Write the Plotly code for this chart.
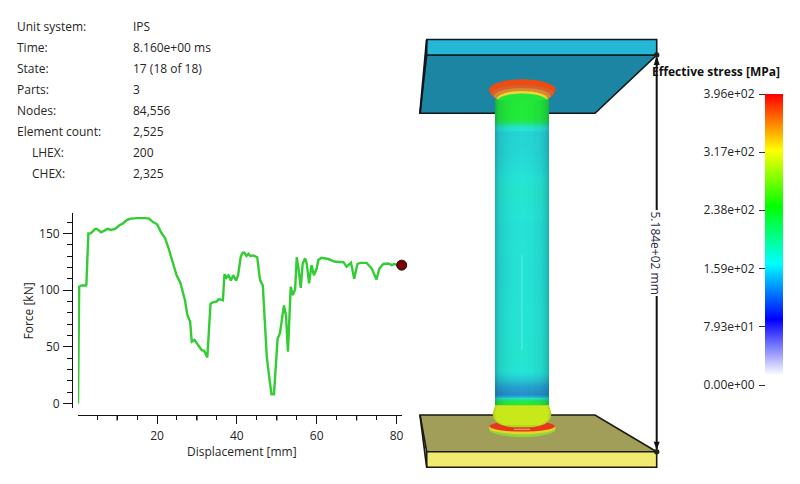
import plotly.graph_objects as go

# --- curve data ---
displacement = [0.2,0.5,1.1,2.2,2.3,2.8,3.4,4.5,4.9,6.0,7.6,8.4,9.5,10.5,11.5,12.5,13.5,15,17,18,19,20,21,22,22.8,23.3,24.9,25.8,27,27.6,28.3,28.7,29.4,31.2,31.8,32.6,33.4,34.1,35,35.5,36.5,36.9,37.4,37.9,38.5,39.1,39.8,40.3,41,41.5,41.9,42.4,42.9,43.4,44.1,45.1,45.8,46.5,47.1,47.5,48.2,48.7,49.3,50.2,50.8,51.2,51.8,52.3,52.8,53.5,54,54.6,55,55.5,56,56.5,57.1,57.5,58.1,58.7,59.3,60,60.4,61.2,62.9,64.6,66.7,67.5,68.4,68.6,69.4,70.2,70.9,72.5,73.8,75,75.7,76.7,77.9,78.8,79.4,80.4,81.3]
force = [0,103,104,104,105,150,150,154,154,151,154,153,154,157,159,162,163,163.5,163.5,163,160,158,151,146,138,132,113,107,91,78,72,54.4,56,47,46.5,40.6,88,89.4,90,92,91,114,111,113,108.5,113,108.5,113,130,133,133,130,132,130,130.6,129,109,104,62,41,20.6,8,8,57,62,70.6,86.5,78,45.6,103,95.6,100.6,129,117.6,102,123.5,128,123.5,106,122,113,119,126.5,128.5,127.4,125,124.7,120.6,124,124,110,123,124,124,119,109.4,119,123,123.5,122,123,122,122]
current_disp = [81.3]
current_force = [122]
x_ticks = [20, 40, 60, 80]
y_ticks = [0, 50, 100, 150]

# --- legend ---
legend_values = [0, 79.3, 158.6, 238, 317, 396]
legend_labels = ["0.00e+00", "7.93e+01", "1.59e+02", "2.38e+02", "3.17e+02", "3.96e+02"]
ramp_levels = [13.6, 90, 166.6, 243, 319.5, 396]
ramp_colors = ["#ffffff", "#0000ff", "#00ffff", "#00ff00", "#ffff00", "#ff0000"]

# --- column stress by image row ---
column_rows = [100,118,122,126,132,150,170,190,210,230,250,270,300,330,360,372,380,388,394,397,400,404,408]
column_stress = [238,236,205,172,158,159,162,167,165,163,164,163,164,165,167,164,152,134,122,150,205,240,262]
column_scale = [[0,"rgb(30,60,190)"],[0.25,"rgb(40,110,195)"],[0.35,"rgb(38,165,208)"],[0.415,"rgb(38,230,215)"],
                [0.5,"rgb(32,232,110)"],[0.6,"rgb(35,235,55)"],[0.8,"rgb(205,238,25)"],[1,"rgb(235,50,20)"]]
cross_pos = [0,0.03,0.08,0.18,0.32,0.5,0.68,0.82,0.92,0.97,1]
cross_shade = [0.26,0.18,0.12,0.06,0.02,0,0.02,0.07,0.15,0.24,0.32]

info_rows = [("Unit system:", "IPS", 0), ("Time:", "8.160e+00 ms", 0), ("State:", "17 (18 of 18)", 0),
             ("Parts:", "3", 0), ("Nodes:", "84,556", 0), ("Element count:", "2,525", 0),
             ("LHEX:", "200", 1), ("CHEX:", "2,325", 1)]

FONT = "Open Sans, Noto Sans, sans-serif"
TXT = "#262626"
W, H = 800, 484
dx = lambda p: p / W
dy = lambda p: 1 - p / H

fig = go.Figure()

# load curve
fig.add_trace(go.Scatter(x=displacement, y=force, mode="lines", line=dict(color="#32cd32", width=2.4),
                         xaxis="x", yaxis="y", hoverinfo="skip", showlegend=False, cliponaxis=False))
fig.add_trace(go.Scatter(x=current_disp, y=current_force, mode="markers",
                         marker=dict(color="#7f0000", size=10, line=dict(color="#111", width=1)),
                         xaxis="x", yaxis="y", hoverinfo="skip", showlegend=False, cliponaxis=False))

# column
fig.add_trace(go.Heatmap(x=[0, 1], y=column_rows, z=[[v, v] for v in column_stress], zmin=0, zmax=396,
                         colorscale=column_scale, zsmooth="best", showscale=False, xaxis="x5", yaxis="y5", hoverinfo="skip"))
fig.add_trace(go.Heatmap(x=cross_pos, y=[100, 408], z=[cross_shade, cross_shade], zmin=0, zmax=1,
                         colorscale=[[0, "rgba(0,30,70,0)"], [1, "rgba(0,30,70,1)"]], zsmooth="best",
                         showscale=False, xaxis="x5", yaxis="y5", hoverinfo="skip"))

# colour legend
stops = [[i / (len(ramp_colors) - 1), c] for i, c in enumerate(ramp_colors)]
fig.add_trace(go.Heatmap(x=[0, 1], y=ramp_levels, z=[[v, v] for v in ramp_levels], zmin=ramp_levels[0], zmax=ramp_levels[-1],
                         colorscale=stops, zsmooth="best", showscale=False, xaxis="x4", yaxis="y4", hoverinfo="skip"))

# --- illustration shapes in page pixels (x3 / y3) ---
shapes = []
def poly(points, fill, line=None, width=0, layer="below", opacity=1):
    path = "M " + " L ".join(f"{a},{b}" for a, b in points) + " Z"
    shapes.append(dict(type="path", path=path, xref="x3", yref="y3", fillcolor=fill, layer=layer, opacity=opacity,
                       line=dict(color=line or "rgba(0,0,0,0)", width=width)))
def oval(x0, y0, x1, y1, fill, layer="below"):
    shapes.append(dict(type="circle", xref="x3", yref="y3", x0=x0, y0=y0, x1=x1, y1=y1, fillcolor=fill,
                       layer=layer, line=dict(width=0)))
def seg(x0, y0, x1, y1, color="#111", width=2, layer="below", opacity=1, xref="x3"):
    shapes.append(dict(type="line", xref=xref, yref="y3", x0=x0, y0=y0, x1=x1, y1=y1, layer=layer, opacity=opacity,
                       line=dict(color=color, width=width)))

# upper plate
poly([(426.7,55),(656.7,55),(595,113.3),(420,113.3)], "#1c85a4", "#14181c", 1.6)
poly([(426.7,39.5),(656.7,39.5),(656.7,55),(426.7,55)], "#25b8d6", "#14181c", 1.6)
seg(426.7,40,420,113.3,"#101418",2)
# lower plate
poly([(420,415),(595,415),(656.7,451.7),(426.7,451.7)], "#a19e5a", "#1a1a10", 1.6)
poly([(426.7,451.7),(656.7,451.7),(656.7,467.3),(426.7,467.3)], "#f0ea70", "#1a1a10", 1.6)
seg(420,415,426.7,467,"#1a1a10",1.8)

# upper flange
oval(489,79.3,555.7,100.5,"#ec4c14")
oval(491,85,553.5,102,"#d8602a")
oval(494,88,550.5,104,"#d98a2c")
oval(497,91,547.5,106,"#e8d83a")
oval(495.3,93.5,549.3,112,"#23e637")

# lower flange
oval(489,421.5,555.7,437,"#8fd63a","above")
oval(489,421,555.7,434.3,"#e8d22c","above")
oval(489.5,421,555,431.6,"#e6381a","above")
seg(514,429.4,530,429.4,"#f0a070",1.2,"above")
# lower bulge
bulge = [(495,405),(494.4,408),(493.2,411),(492.7,414),(493.4,418),(495.5,421),(499,424),(505,426),(512,427.3),(532,427.3),(539,426),(545,424),(548.5,421),(550.6,418),(551.3,414),(550.8,411),(549.8,408),(549.3,405)]
poly(bulge, "#b4d81e", layer="above")
poly([(497,406),(547,406),(549,412),(548,420),(540,425),(504,425),(496,420),(495,412)], "#c8e81a", layer="above")

# streak on column
seg(521.8,255,521.8,350,"#a0fff0",1.4,"above",0.3)

# dimension line
seg(656.7,58,656.7,449,"#111",2)
poly([(656.7,56),(653.7,65),(659.7,65)], "#111")
poly([(656.7,450),(653.7,441.7),(659.7,441.7)], "#111")
oval(654,52.3,659.4,57.7,"#23231a")
oval(654,449,659.4,454.4,"#23231a")

# medium ticks of the displacement axis
for v in [10, 30, 50, 70]:
    seg(v, 415, v, 420.5, "#111", 1.3, "above", 1, "x")

# --- text ---
ann = []
def label(x, y, text, anchor="left", **kw):
    ann.append(dict(x=x, y=y, xref="x3", yref="y3", text=text, showarrow=False, xanchor=anchor, yanchor="middle",
                    font=kw.pop("font", dict(family=FONT, size=12, color=TXT)), **kw))
for i, (name, val, indent) in enumerate(info_rows):
    yy = 26.7 + 21 * i
    label(29.5 if indent else 15, yy, name)
    label(131, yy, val)
label(716, 71.7, "<b>Effective stress [MPa]</b>", "center", font=dict(family=FONT, size=12, color="#111"))
label(655.5, 253, "5.184e+02 mm", "center", textangle=90, bgcolor="#ffffff",
      font=dict(family=FONT, size=12, color="#2a2a40"))
label(242, 451.5, "Displacement [mm]", "center")
label(27.5, 311, "Force [kN]", "center", textangle=-90)

axcommon = dict(showgrid=False, zeroline=False, showline=False, fixedrange=True, automargin=False)
fig.update_layout(
    width=W, height=H, margin=dict(l=0, r=0, t=0, b=0, autoexpand=False), paper_bgcolor="white", plot_bgcolor="rgba(0,0,0,0)",
    showlegend=False, shapes=shapes, annotations=ann, font=dict(family=FONT, size=12, color=TXT),
    xaxis=dict(domain=[dx(78), dx(401.7)], range=[0.2, 81.3], anchor="free", position=dy(415), showgrid=False, zeroline=False, automargin=False,
               showline=True, linecolor="#111", linewidth=1.3, ticks="outside", ticklen=8, tickwidth=1.3, tickcolor="#111",
               tickvals=x_ticks, minor=dict(dtick=5, tick0=0, ticks="outside", ticklen=3.5, tickwidth=1.3, tickcolor="#111"),
               ticklabelstandoff=1),
    yaxis=dict(domain=[dy(407.5), dy(213)], range=[-3.6, 168], anchor="free", position=dx(71.7), showgrid=False, zeroline=False, automargin=False,
               showline=True, linecolor="#111", linewidth=1.3, ticks="outside", ticklen=8.5, tickwidth=1.3, tickcolor="#111",
               tickvals=y_ticks, minor=dict(dtick=10, tick0=0, ticks="outside", ticklen=4.5, tickwidth=1.3, tickcolor="#111"),
               ticklabelstandoff=1),
    xaxis3=dict(domain=[0, 1], range=[0, W], visible=False, anchor="y3", **axcommon),
    yaxis3=dict(domain=[0, 1], range=[H, 0], visible=False, anchor="x3", **axcommon),
    xaxis5=dict(domain=[dx(495), dx(549.3)], range=[0, 1], visible=False, anchor="y5", **axcommon),
    yaxis5=dict(domain=[dy(408), dy(100)], range=[408, 100], visible=False, anchor="x5", **axcommon),
    xaxis4=dict(domain=[dx(765), dx(783)], range=[0, 1], visible=False, anchor="y4", **axcommon),
    yaxis4=dict(domain=[dy(385), dy(94)], range=[0, 396], anchor="free", position=dx(765), showgrid=False, zeroline=False, showline=False, automargin=False,
                ticks="outside", ticklen=6, tickwidth=1.3, tickcolor="#333", tickvals=legend_values, ticktext=legend_labels,
                ticklabelstandoff=2, tickfont=dict(size=12, color=TXT)),
)
# make the illustration axes exist
fig.add_trace(go.Scatter(x=[None], y=[None], xaxis="x3", yaxis="y3", hoverinfo="skip", showlegend=False))

fig.write_html("out.html", config=dict(displayModeBar=False),
               post_script="document.body.style.margin='0';document.documentElement.style.overflow='hidden';")
